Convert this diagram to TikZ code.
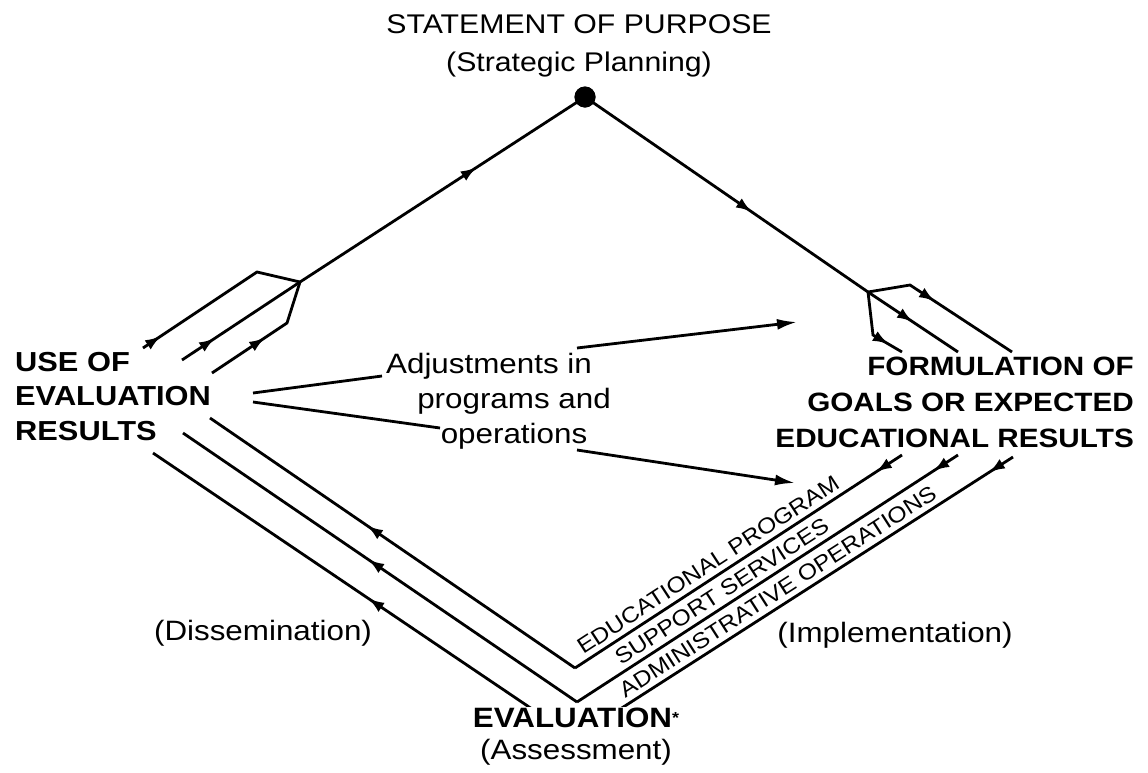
\documentclass[tikz,border=0pt]{standalone}
\usepackage{fontspec}
\setmainfont{Liberation Sans}[FakeStretch=1.12]
\usetikzlibrary{arrows.meta,decorations.markings}
\begin{document}
\begin{tikzpicture}[x=1pt,y=-1pt,
  ln/.style={line width=2.8pt,line join=miter},
  marr/.style={decoration={markings,mark=at position #1 with {\arrow{Latex[length=16pt,width=11pt]}}},postaction={decorate}},
  head/.style={font=\fontsize{27}{38}\selectfont,inner sep=0pt},
  boldlbl/.style={font=\bfseries\fontsize{27.5}{34.5}\selectfont,inner sep=0pt},
  reg/.style={font=\fontsize{28}{35}\selectfont,inner sep=0pt},
  rot/.style={font=\fontsize{22}{24}\selectfont,sloped,above,inner xsep=0pt,inner ysep=6pt},
  adjarr/.style={line width=2.8pt,-{Latex[length=20pt,width=11pt]}}
]
\useasboundingbox (0,0) rectangle (1148,772);

% texts
\node[head,anchor=north,align=center] (sop) at (579,14) {STATEMENT OF PURPOSE\\(Strategic Planning)};
\node[boldlbl,anchor=north west,align=left] (use) at (15,352) {USE OF\\EVALUATION\\RESULTS};
\node[boldlbl,anchor=north east,align=right,font=\bfseries\fontsize{26.5}{36}\selectfont] (form) at (1134,357) {FORMULATION OF\\GOALS OR EXPECTED\\EDUCATIONAL RESULTS};
\node[reg,anchor=north,align=center] (adj) at (514,353) {Adjustments in\hspace*{50pt}\\programs and\\operations};
\node[reg,anchor=base] (diss) at (263,640) {(Dissemination)};
\node[reg,anchor=base] (impl) at (895,642) {(Implementation)};

% points
\node[circle,fill,inner sep=0pt,minimum size=21pt] (dot) at (585,97) {};
\coordinate (JL) at (300,282);
\coordinate (JR) at (868,292);
\coordinate (l1) at (143,348); \coordinate (l1b) at (257,272);
\coordinate (l2) at (182,360);
\coordinate (l3) at (212,373); \coordinate (l3b) at (287,323);
\coordinate (r1b) at (873,335); \coordinate (r1) at (902,352);
\coordinate (r2) at (958,352);
\coordinate (r3b) at (910,285); \coordinate (r3) at (1012,352);
\coordinate (V1) at (575,668); \coordinate (V2) at (577,702); \coordinate (V3) at (575,738);
\coordinate (b1) at (210,418); \coordinate (b2) at (183,433); \coordinate (b3) at (153,453);
\coordinate (e1) at (902,455); \coordinate (e2) at (958,455); \coordinate (e3) at (1013,457);
\coordinate (u1) at (253,393); \coordinate (u2) at (253,402);
\coordinate (a1) at (382,376); \coordinate (a2) at (440,428);
\coordinate (a3) at (577,348); \coordinate (a3e) at (797,322);
\coordinate (a4) at (577,450); \coordinate (a4e) at (795,483);

% top lines
\draw[ln,marr=0.62] (JL) -- (dot.center);
\draw[ln,marr=0.59] (dot.center) -- (JR);
% left branch
\draw[ln,marr=0.12] (l1) -- (l1b) -- (JL);
\draw[ln,marr=0.28] (l2) -- (JL);
\draw[ln,marr=0.48] (l3) -- (l3b) -- (JL);
% right branch
\draw[ln,marr=0.80] (JR) -- (r1b) -- (r1);
\draw[ln,marr=0.50] (JR) -- (r2);
\draw[ln,marr=0.44] (JR) -- (r3b) -- (r3);
% bottom left
\draw[ln,marr=0.57] (V1) -- (b1);
\draw[ln,marr=0.53] (V2) -- (b2);
\draw[ln,marr=0.49] (V3) -- (b3);
% bottom right
\draw[ln,marr=0.08] (e1) -- (V1);
\draw[ln,marr=0.065] (e2) -- (V2);
\draw[ln,marr=0.055] (e3) -- (V3);
% rotated labels
\path (V1) -- node[rot,pos=0.43] (ed) {EDUCATIONAL PROGRAM} (e1);
\path (V2) -- node[rot,pos=0.40] (ss) {SUPPORT SERVICES} (e2);
\path (V3) -- node[rot,pos=0.48] (ao) {ADMINISTRATIVE OPERATIONS} (e3);

% adjustments
\draw[ln] (u1) -- (a1);
\draw[ln] (u2) -- (a2);
\draw[adjarr] (a3) -- (a3e);
\draw[adjarr] (a4) -- (a4e);

% evaluation (covers the vertex of the lowest lines)
\node[anchor=north,align=center,fill=white,inner xsep=2pt,inner ysep=1pt,font=\fontsize{28}{32}\selectfont] (eval) at (576,707) {\textbf{EVALUATION}\raisebox{4pt}{\bfseries\fontsize{16}{16}\selectfont*}\\(Assessment)};
\node[circle,fill,inner sep=0pt,minimum size=21pt] at (dot) {};
\end{tikzpicture}
\end{document}
